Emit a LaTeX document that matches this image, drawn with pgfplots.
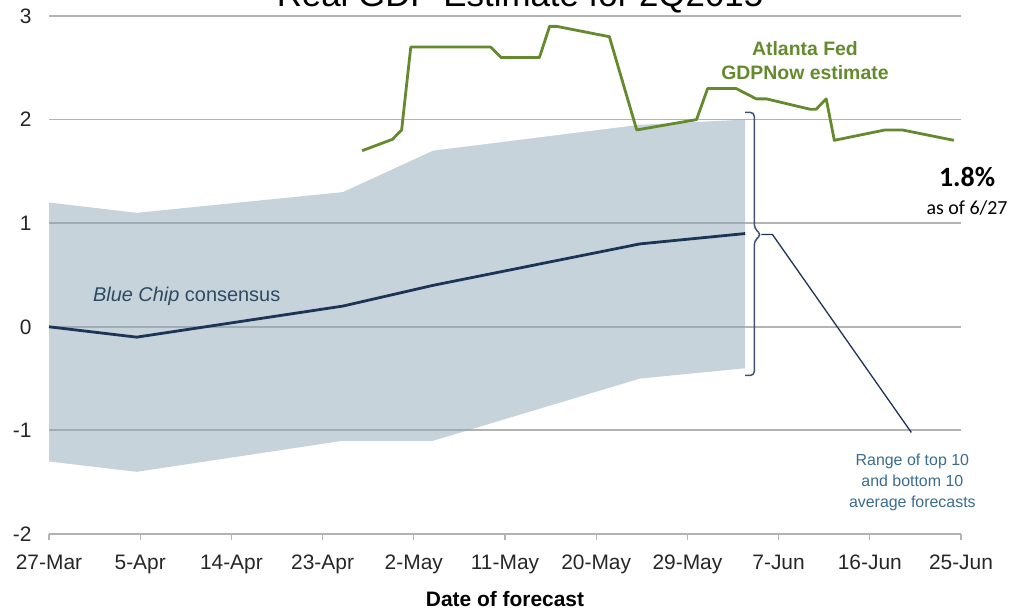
\documentclass[border=0pt]{standalone}
\usepackage{fontspec}
\setmainfont{Liberation Sans}
\newfontfamily\cali{Carlito}
\usepackage{pgfplots}
\pgfplotsset{compat=1.18}
\usepgfplotslibrary{fillbetween}
\definecolor{gdpgreen}{HTML}{658A2D}
\definecolor{bcnavy}{HTML}{1C3557}
\definecolor{bandfill}{HTML}{8EA7B8}
\definecolor{gridgray}{HTML}{B3B3B3}
\definecolor{labblue}{HTML}{3B6C8E}
\definecolor{bctext}{HTML}{2E4A62}

\pgfplotstableread{
day val
30.9 1.70
33.9 1.81
34.8 1.90
35.7 2.70
43.6 2.70
44.6 2.60
48.4 2.60
49.4 2.90
50.1 2.90
55.3 2.80
58.0 1.90
63.9 2.00
65.0 2.30
67.8 2.30
69.8 2.20
70.8 2.20
75.1 2.10
75.7 2.10
76.7 2.20
77.5 1.80
82.5 1.90
84.2 1.90
89.3 1.80
}\gdpnow

\pgfplotstableread{
day cons top bot
0    0.0   1.2  -1.3
8.65 -0.1  1.1  -1.4
29.0 0.2   1.3  -1.1
37.9 0.4   1.7  -1.1
58.3 0.8   1.95 -0.5
68.7 0.9   2.0  -0.4
}\bluechip

\begin{document}
\begin{tikzpicture}
\begin{axis}[
  at={(49bp,75bp)}, anchor=south west,
  scale only axis, width=912bp, height=518bp,
  xmin=0, xmax=90, ymin=-2, ymax=3,
  clip=false,
  axis line style={draw=none},
  ymajorgrids, grid style={color=gridgray, line width=1.8bp},
  xtick={0,9,...,90},
  xticklabels={27-Mar,5-Apr,14-Apr,23-Apr,2-May,11-May,20-May,29-May,7-Jun,16-Jun,25-Jun},
  ytick={-2,-1,0,1,2,3},
  yticklabels={-2,-1,0,1,2,3},
  tick pos=left,
  tick align=outside, major tick length=6bp,
  xtick style={color=gridgray, line width=1.2bp},
  ytick style={draw=none},
  tick label style={font=\fontsize{21}{24}\selectfont, text=black!85},
  yticklabel style={xshift=-8bp},
  xticklabel style={yshift=-11bp, text height=15bp, text depth=4bp},
  xlabel={Date of forecast},
  xlabel style={font=\bfseries\fontsize{21}{24}\selectfont, yshift=-11bp},
]
\addplot[name path=top, draw=none] table[x=day, y=top] {\bluechip};
\addplot[name path=bot, draw=none] table[x=day, y=bot] {\bluechip};
\addplot[fill=bandfill, fill opacity=0.5, draw=none] fill between[of=top and bot];
\addplot[color=bcnavy, line width=2.8bp] table[x=day, y=cons] {\bluechip};
\addplot[color=gdpgreen, line width=2.8bp, line join=round] table[x=day, y=val] {\gdpnow};

% bracket and leader
\draw[color=bcnavy!85, line width=1.5bp, rounded corners=4bp]
  (axis cs:68.7,2.07) -- (axis cs:69.6,2.07) -- (axis cs:69.6,0.95) -- (axis cs:70.3,0.89)
  -- (axis cs:69.6,0.83) -- (axis cs:69.6,-0.47) -- (axis cs:68.7,-0.47);
\draw[color=bcnavy, line width=1.3bp] (axis cs:70.3,0.89) -- (axis cs:71.4,0.89) -- (axis cs:85.1,-1.02);

\node[font=\bfseries\fontsize{19.5}{23}\selectfont, text=gdpgreen, align=center] at (axis cs:74.6,2.57) {Atlanta Fed\\[2bp]GDPNow estimate};
\node[anchor=west, font=\fontsize{20}{24}\selectfont, text=bctext] at (axis cs:4.0,0.29) {\itshape Blue Chip\upshape{} consensus};
\node[font=\cali\bfseries\fontsize{28}{32}\selectfont] at (axis cs:90.6,1.45) {1.8\%};
\node[font=\cali\fontsize{20}{24}\selectfont] at (axis cs:90.6,1.15) {as of 6/27};
\node[font=\fontsize{16}{21}\selectfont, text=labblue, align=center] at (axis cs:85.2,-1.50) {Range of top 10\\and bottom 10\\average forecasts};
\end{axis}
\node[anchor=base, inner sep=0pt, font=\fontsize{35}{40}\selectfont] at (520bp,602bp) {Real GDP Estimate for 2Q2015};
\pgfresetboundingbox
\useasboundingbox (0,0) rectangle (1014bp,609bp);
\end{tikzpicture}
\end{document}
